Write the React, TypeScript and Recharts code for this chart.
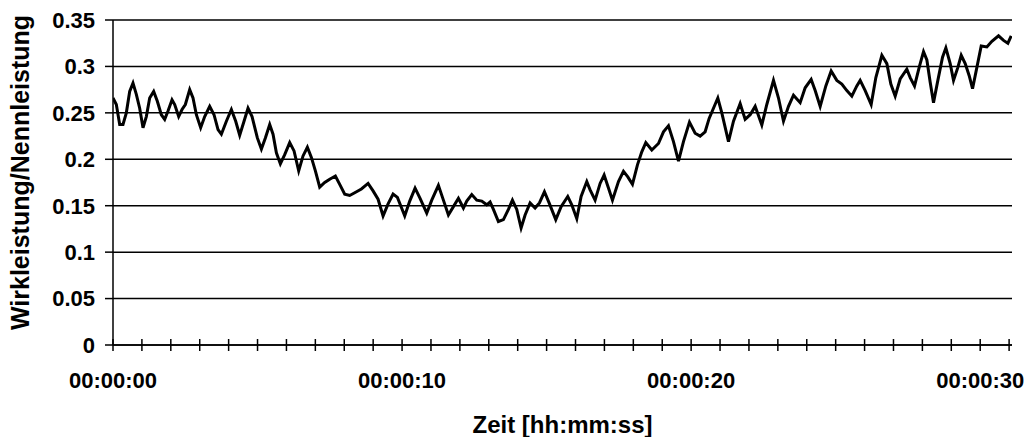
import React from 'react';
import { LineChart, Line, XAxis, YAxis, CartesianGrid } from 'recharts';

// Time (seconds) and Wirkleistung/Nennleistung in three segments
const secondsA = [0, 0.115, 0.231, 0.346, 0.461, 0.577, 0.692, 0.807, 0.923, 1.038, 1.153, 1.269, 1.407, 1.534, 1.672, 1.788, 1.903, 2.042, 2.134, 2.272, 2.388, 2.503, 2.653, 2.768, 2.884, 3.033, 3.172, 3.345, 3.495, 3.633, 3.749, 3.922, 4.095, 4.245, 4.383, 4.498, 4.671, 4.81, 4.994, 5.133, 5.271, 5.421, 5.536, 5.652, 5.79, 5.94, 6.113, 6.263, 6.424, 6.574, 6.724, 6.863, 7.001, 7.151, 7.324, 7.497, 7.693, 7.843, 8.016, 8.189, 8.362, 8.593, 8.824, 8.997, 9.17, 9.343, 9.516, 9.689, 9.839, 9.977, 10.092, 10.265];
const powerA = [0.266, 0.259, 0.2375, 0.2375, 0.25, 0.273, 0.282, 0.27, 0.255, 0.234, 0.246, 0.266, 0.273, 0.2625, 0.248, 0.243, 0.252, 0.264, 0.259, 0.246, 0.2536, 0.259, 0.275, 0.266, 0.248, 0.234, 0.246, 0.257, 0.248, 0.232, 0.227, 0.241, 0.2536, 0.241, 0.226, 0.2375, 0.255, 0.246, 0.223, 0.211, 0.223, 0.2375, 0.227, 0.207, 0.195, 0.205, 0.218, 0.209, 0.1875, 0.2036, 0.213, 0.202, 0.1875, 0.17, 0.175, 0.1786, 0.182, 0.173, 0.1625, 0.161, 0.164, 0.168, 0.174, 0.166, 0.157, 0.139, 0.152, 0.1625, 0.159, 0.148, 0.139, 0.155];

const secondsB = [10.45, 10.623, 10.854, 11.027, 11.257, 11.43, 11.603, 11.776, 11.949, 12.122, 12.238, 12.411, 12.584, 12.757, 12.93, 13.045, 13.16, 13.333, 13.506, 13.679, 13.818, 13.968, 14.118, 14.256, 14.429, 14.602, 14.752, 14.925, 15.087, 15.317, 15.502, 15.732, 15.871, 16.044, 16.194, 16.39, 16.505, 16.678, 16.851, 16.99, 17.14, 17.278, 17.486, 17.659, 17.809, 17.97, 18.143, 18.293, 18.432, 18.639, 18.87, 19.043, 19.216, 19.389, 19.562, 19.735, 19.942, 20.138, 20.311, 20.484, 20.623];
const powerB = [0.169, 0.158, 0.142, 0.156, 0.172, 0.156, 0.14, 0.149, 0.158, 0.1475, 0.155, 0.162, 0.156, 0.155, 0.151, 0.154, 0.146, 0.133, 0.135, 0.146, 0.156, 0.146, 0.126, 0.14, 0.153, 0.1475, 0.153, 0.165, 0.153, 0.135, 0.149, 0.16, 0.151, 0.136, 0.16, 0.176, 0.167, 0.156, 0.174, 0.183, 0.169, 0.156, 0.176, 0.187, 0.181, 0.173, 0.194, 0.208, 0.218, 0.21, 0.217, 0.2296, 0.236, 0.219, 0.198, 0.219, 0.24, 0.228, 0.225, 0.2296, 0.244];

const secondsC = [20.923, 21.061, 21.292, 21.465, 21.696, 21.869, 22.042, 22.215, 22.445, 22.618, 22.849, 23.022, 23.195, 23.368, 23.541, 23.772, 23.945, 24.152, 24.291, 24.464, 24.66, 24.844, 25.04, 25.213, 25.386, 25.559, 25.732, 25.848, 26.021, 26.228, 26.39, 26.598, 26.771, 26.909, 27.059, 27.232, 27.462, 27.578, 27.728, 27.889, 28.039, 28.155, 28.27, 28.385, 28.535, 28.697, 28.812, 28.962, 29.077, 29.227, 29.343, 29.481, 29.619, 29.735, 29.885, 30.035, 30.231, 30.404, 30.634, 30.807, 30.957, 31.073];
const powerC = [0.266, 0.25, 0.219, 0.241, 0.26, 0.243, 0.248, 0.257, 0.237, 0.259, 0.285, 0.266, 0.241, 0.257, 0.269, 0.261, 0.277, 0.286, 0.274, 0.257, 0.279, 0.295, 0.285, 0.281, 0.274, 0.268, 0.279, 0.285, 0.274, 0.259, 0.288, 0.312, 0.303, 0.281, 0.268, 0.2865, 0.297, 0.288, 0.279, 0.299, 0.316, 0.307, 0.283, 0.261, 0.285, 0.31, 0.32, 0.303, 0.285, 0.299, 0.312, 0.303, 0.29, 0.276, 0.299, 0.322, 0.321, 0.327, 0.333, 0.328, 0.325, 0.333];

const yTicks = [0, 0.05, 0.1, 0.15, 0.2, 0.25, 0.3, 0.35];
const xTicks = [0, 1, 2, 3, 4, 5, 6, 7, 8, 9, 10, 11, 12, 13, 14, 15, 16, 17, 18, 19, 20, 21, 22, 23, 24, 25, 26, 27, 28, 29, 30, 31];
const xLabelTicks = [0, 10, 20, 30];
const xMax = 31.1;

const seconds = [...secondsA, ...secondsB, ...secondsC];
const power = [...powerA, ...powerB, ...powerC];
const data = seconds.map((t, i) => ({ t, p: power[i] }));

const FONT = '"Liberation Sans", Arial, Helvetica, sans-serif';
const X_TICK_SIZE = 6;
const X_TICK_MARGIN = 21;

const fmt = (s: number) => `00:00:${String(s).padStart(2, '0')}`;

function XTick(props: any) {
  const { x, y, payload } = props;
  const axisY = y - X_TICK_SIZE - X_TICK_MARGIN;
  const v = payload.value;
  const showLabel = xLabelTicks.includes(v);
  return (
    <g>
      <line x1={x} x2={x} y1={axisY - 6} y2={axisY + 6} stroke="#000" strokeWidth={1.5} />
      {showLabel && (
        <text x={x} y={y} dy="0.71em" textAnchor="middle" fontFamily={FONT} fontWeight="bold" fontSize={22} fill="#000">
          {fmt(v)}
        </text>
      )}
    </g>
  );
}

export default function App() {
  return (
    <div style={{ position: 'absolute', left: 0, top: 0, width: 1026, height: 437, overflow: 'hidden', background: '#fff' }}>
      <LineChart width={1026} height={437} data={data} margin={{ top: 20, right: 14, left: 0, bottom: 0 }}>
        <CartesianGrid vertical={false} stroke="#000" strokeWidth={1.5} />
        <XAxis
          dataKey="t"
          type="number"
          domain={[0, xMax]}
          ticks={xTicks}
          interval={0}
          allowDataOverflow
          height={92}
          tickLine={false}
          tickSize={X_TICK_SIZE}
          tickMargin={X_TICK_MARGIN}
          axisLine={{ stroke: '#000', strokeWidth: 1.5 }}
          tick={<XTick />}
          label={{
            value: 'Zeit [hh:mm:ss]',
            position: 'center',
            dy: 33,
            style: { fontFamily: FONT, fontWeight: 'bold', fontSize: 24, fill: '#000' },
          }}
        />
        <YAxis
          type="number"
          domain={[0, 0.35]}
          ticks={yTicks}
          interval={0}
          width={113}
          tickSize={8}
          tickMargin={10}
          tickLine={{ stroke: '#000', strokeWidth: 1.5 }}
          axisLine={{ stroke: '#000', strokeWidth: 1.5 }}
          tick={{ fill: '#000', fontSize: 22, fontWeight: 'bold', fontFamily: FONT }}
          label={{
            value: 'Wirkleistung/Nennleistung',
            angle: -90,
            position: 'center',
            dx: -36,
            dy: -10,
            style: { fontFamily: FONT, fontWeight: 'bold', fontSize: 25, fill: '#000' },
          }}
        />
        <Line
          type="linear"
          dataKey="p"
          stroke="#000"
          strokeWidth={3}
          dot={false}
          isAnimationActive={false}
        />
      </LineChart>
    </div>
  );
}
